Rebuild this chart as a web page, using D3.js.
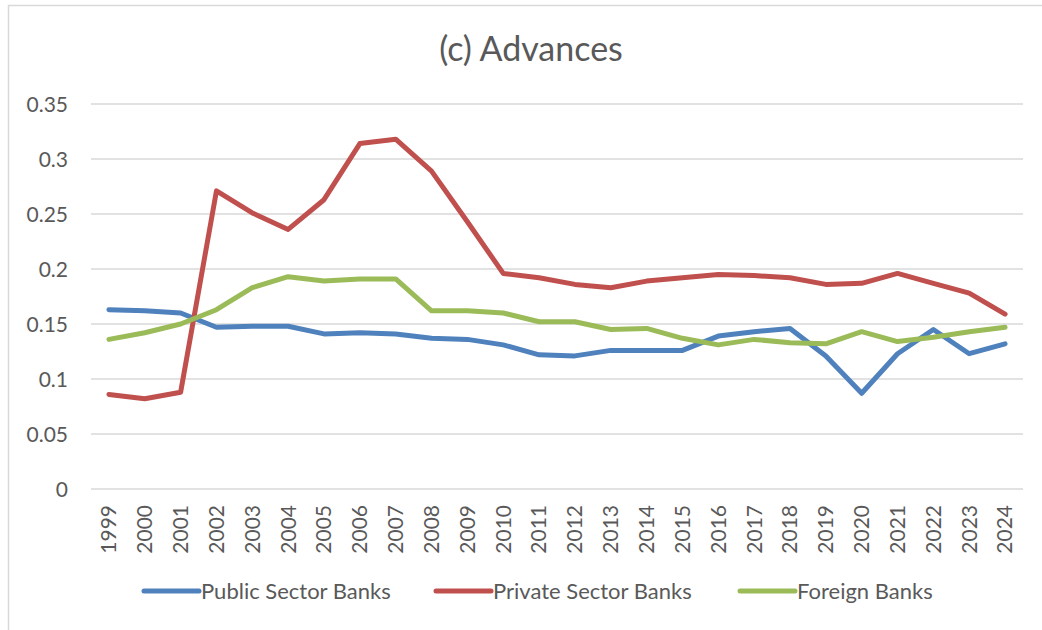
<!DOCTYPE html>
<html>
<head>
<meta charset="utf-8">
<script src="https://cdn.jsdelivr.net/npm/d3@7"></script>
<style>
  body { margin: 0; background: #fff; }
  text { font-family: Lato, "Open Sans", sans-serif; fill: #595959; }
</style>
</head>
<body>
<div id="chart"></div>
<script>
const years = d3.range(1999, 2025).map(String);

const publicBanks = [0.163, 0.162, 0.160, 0.147, 0.148, 0.148, 0.141, 0.142, 0.141, 0.137,
  0.136, 0.131, 0.122, 0.121, 0.126, 0.126, 0.126, 0.139, 0.143, 0.146,
  0.121, 0.087, 0.123, 0.145, 0.123, 0.132];
const privateBanks = [0.086, 0.082, 0.088, 0.271, 0.251, 0.236, 0.263, 0.314, 0.318, 0.289,
  0.243, 0.196, 0.192, 0.186, 0.183, 0.189, 0.192, 0.195, 0.194, 0.192,
  0.186, 0.187, 0.196, 0.187, 0.178, 0.159];
const foreignBanks = [0.136, 0.142, 0.150, 0.163, 0.183, 0.193, 0.189, 0.191, 0.191, 0.162,
  0.162, 0.160, 0.152, 0.152, 0.145, 0.146, 0.137, 0.131, 0.136, 0.133,
  0.132, 0.143, 0.134, 0.138, 0.143, 0.147];

const yTicks = [0, 0.05, 0.1, 0.15, 0.2, 0.25, 0.3, 0.35];
const seriesNames = ["Public Sector Banks", "Private Sector Banks", "Foreign Banks"];
const seriesColors = ["#4f81bd", "#c0504d", "#9bbb59"];

const series = [publicBanks, privateBanks, foreignBanks].map((values, i) => ({
  name: seriesNames[i],
  color: seriesColors[i],
  values: values.map((v, j) => ({ year: years[j], value: v }))
}));

const width = 1042;
const height = 630;
const margin = { top: 104, right: 19, bottom: 141, left: 91 };

const svg = d3.select("#chart").append("svg")
  .attr("width", width)
  .attr("height", height);

// chart area border (only left & top visible)
svg.append("rect")
  .attr("x", 8.5).attr("y", 5.5)
  .attr("width", width + 20).attr("height", height + 20)
  .attr("fill", "none")
  .attr("stroke", "#d9d9d9")
  .attr("stroke-width", 1.5);

const x = d3.scaleBand()
  .domain(years)
  .range([margin.left, width - margin.right]);

const y = d3.scaleLinear()
  .domain([0, 0.35])
  .range([height - margin.bottom, margin.top]);

// gridlines
svg.append("g")
  .selectAll("line")
  .data(yTicks)
  .enter()
  .append("line")
  .attr("x1", margin.left)
  .attr("x2", width - margin.right)
  .attr("y1", (d) => y(d))
  .attr("y2", (d) => y(d))
  .attr("stroke", "#d9d9d9")
  .attr("stroke-width", 1.5);

// Y axis labels
const yAxis = svg.append("g")
  .attr("transform", `translate(${margin.left - 23},0)`)
  .call(d3.axisLeft(y).tickValues(yTicks).tickSize(0).tickPadding(0)
    .tickFormat((d) => String(+d.toFixed(2))));
yAxis.select(".domain").remove();
yAxis.selectAll("text")
  .attr("font-size", "21px")
  .style("font-family", "Lato, 'Open Sans', sans-serif")
  .attr("fill", "#595959")
  .attr("dy", "0.35em");

// X axis labels
const xAxis = svg.append("g")
  .attr("transform", `translate(0,${height - margin.bottom})`)
  .call(d3.axisBottom(x).tickSize(0).tickPadding(0));
xAxis.select(".domain").remove();
xAxis.selectAll("text")
  .attr("font-size", "21px")
  .style("font-family", "Lato, 'Open Sans', sans-serif")
  .attr("fill", "#595959")
  .attr("transform", "rotate(-90)")
  .attr("x", -16)
  .attr("y", 0)
  .attr("dy", "0.35em")
  .style("text-anchor", "end");

// lines
const line = d3.line()
  .x((d) => x(d.year) + x.bandwidth() / 2)
  .y((d) => y(d.value));

svg.append("g")
  .selectAll("path")
  .data(series)
  .enter()
  .append("path")
  .attr("d", (d) => line(d.values))
  .attr("fill", "none")
  .attr("stroke", (d) => d.color)
  .attr("stroke-width", 5)
  .attr("stroke-linejoin", "round")
  .attr("stroke-linecap", "round");

// title
svg.append("text")
  .attr("x", 531)
  .attr("y", 61)
  .attr("text-anchor", "middle")
  .attr("font-size", "34px")
  .text("(c) Advances");

// legend
const legendX = [144, 436, 740];
const legend = svg.append("g")
  .selectAll("g")
  .data(series)
  .enter()
  .append("g")
  .attr("transform", (d, i) => `translate(${legendX[i]},591)`);

legend.append("line")
  .attr("x1", 0).attr("x2", 55)
  .attr("stroke", (d) => d.color)
  .attr("stroke-width", 5)
  .attr("stroke-linecap", "round");

legend.append("text")
  .attr("x", 57)
  .attr("dy", "0.35em")
  .attr("font-size", "22px")
  .text((d) => d.name);
</script>
</body>
</html>
